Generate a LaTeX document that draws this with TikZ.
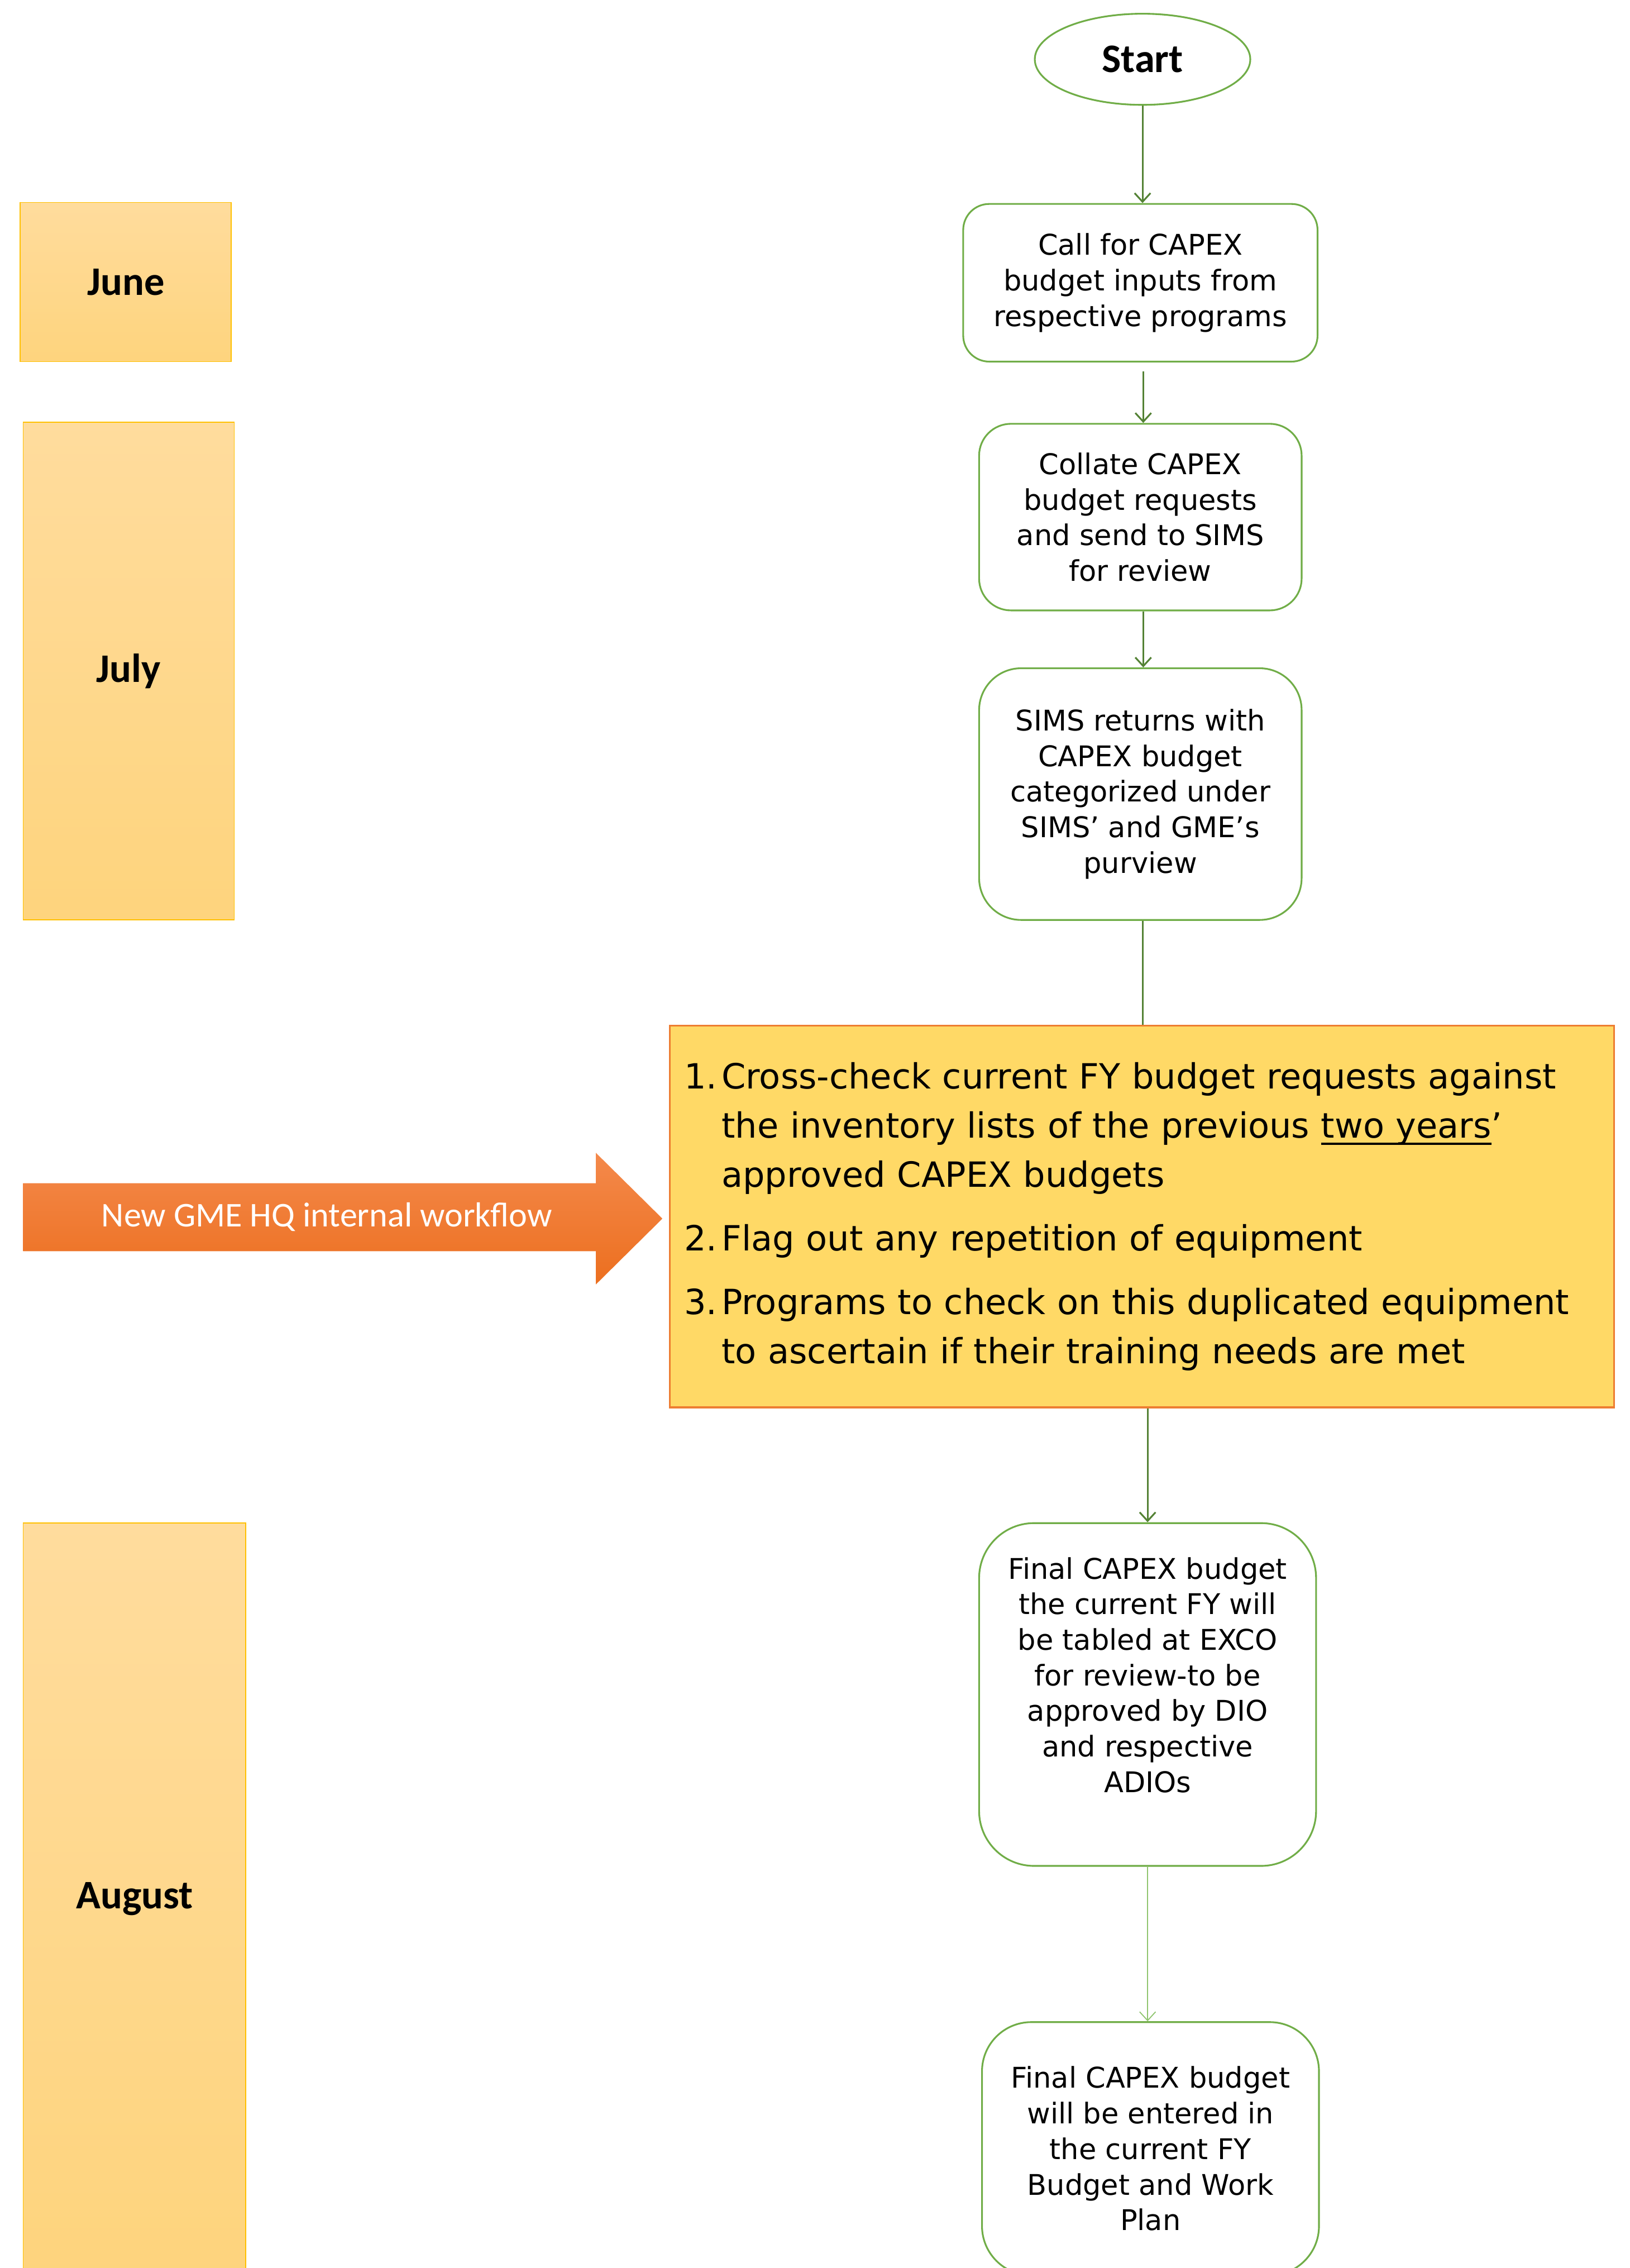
\documentclass[tikz,border=0pt]{standalone}
\usepackage{fontspec}
\setmainfont{DejaVu Sans}
\newfontfamily\calibri{Carlito}
\usetikzlibrary{arrows.meta,shapes.geometric}
\definecolor{boxgreen}{HTML}{70AD47}
\definecolor{arrowgreen}{HTML}{548235}
\definecolor{lightgreen}{HTML}{8FC46E}
\definecolor{chkfill}{HTML}{FFD966}
\definecolor{chkdraw}{HTML}{ED7D31}
\definecolor{monthtop}{HTML}{FFDC9D}
\definecolor{monthbot}{HTML}{FED47D}
\definecolor{monthdraw}{HTML}{FFC000}
\definecolor{arrtop}{HTML}{F4894B}
\definecolor{arrbot}{HTML}{EC6F1F}
\newcommand\myul[1]{\setbox0\hbox{#1}\rlap{\raisebox{-4.6pt}{\rule{\wd0}{1.6pt}}}\box0}
\begin{document}
\begin{tikzpicture}[x=1pt,y=1pt,
  procbox/.style={draw=boxgreen, line width=1.2pt, fill=white, rectangle,
    align=center, font=\fontsize{19.7}{24.6}\selectfont, inner sep=0pt},
  boxtext/.style={align=center, font=\fontsize{19.7}{24.6}\selectfont, inner sep=0pt},
  monthbox/.style={draw=monthdraw, line width=0.7pt, top color=monthtop,
    bottom color=monthbot, rectangle, inner sep=0pt,
    font=\calibri\bfseries\fontsize{28}{32}\selectfont},
  checkbox/.style={draw=chkdraw, line width=1.2pt, fill=chkfill, rectangle,
    inner xsep=10pt, inner ysep=0pt, text width=633pt, align=left,
    minimum height=264pt, font=\fontsize{24}{34}\selectfont},
  flow/.style={draw=arrowgreen, line width=1.2pt,
    -{Straight Barb[length=6pt,width=11pt,line width=1.2pt]}},
  plainline/.style={draw=arrowgreen, line width=1.2pt},
  thinflow/.style={draw=lightgreen, line width=0.7pt,
    -{Straight Barb[length=6pt,width=11pt,line width=0.7pt]}}
]
\useasboundingbox (0,0) rectangle (1127,-1568);
\clip (0,0) rectangle (1127,-1568);

% month boxes
\node[monthbox, minimum width=146pt, minimum height=110pt] (june) at (87,-195) {June};
\node[monthbox, minimum width=146pt, minimum height=344pt] (july) at (89,-464) {July};
\node[monthbox, minimum width=154pt, minimum height=520pt] (august) at (93,-1313) {August};

% start
\node[draw=boxgreen, line width=1.2pt, ellipse, minimum width=149pt,
  minimum height=63pt, inner sep=0pt,
  font=\calibri\bfseries\fontsize{28}{32}\selectfont] (start) at (790,-41) {Start};

% process boxes
\node[procbox, minimum width=245pt, minimum height=109pt, rounded corners=18pt]
  (b1) at (788.5,-195.5) {Call for CAPEX\\budget inputs from\\respective programs};
\node[procbox, minimum width=223pt, minimum height=129pt, rounded corners=22pt]
  (b2) at (788.5,-357.5) {Collate CAPEX\\budget requests\\and send to SIMS\\for review};
\node[procbox, minimum width=223pt, minimum height=174pt, rounded corners=29pt]
  (b3) at (788.5,-549) {SIMS returns with\\CAPEX budget\\categorized under\\SIMS’ and GME’s\\purview};

% check box
\node[checkbox] (check) at (789.5,-841) {%
\begin{tabular}{@{}l@{}l@{}}
\makebox[26pt][l]{1.} & Cross-check current FY budget requests against\\
 & the inventory lists of the previous \myul{two years}’\\
 & approved CAPEX budgets\\[10pt]
2. & Flag out any repetition of equipment\\[10pt]
3. & Programs to check on this duplicated equipment\\
 & to ascertain if their training needs are met
\end{tabular}};

\node[procbox, minimum width=233pt, minimum height=237pt, rounded corners=38pt]
  (b4) at (793.5,-1171.5) {};
\node[boxtext] (b4t) at (793.5,-1158) {Final CAPEX budget\\the current FY will\\be tabled at EXCO\\for review-to be\\approved by DIO\\and respective\\ADIOs};
\node[procbox, minimum width=233pt, minimum height=175pt, rounded corners=34pt]
  (b5) at (795.5,-1485.5) {Final CAPEX budget\\will be entered in\\the current FY\\Budget and Work\\Plan};

% orange arrow
\shade[top color=arrtop, bottom color=arrbot]
  (16,-818) -- (412,-818) -- (412,-797) -- (458,-842.5) -- (412,-888)
  -- (412,-865) -- (16,-865) -- cycle;
\node[font=\calibri\fontsize{24}{28}\selectfont, text=white, inner sep=0pt]
  (wf) at (226,-841.5) {New GME HQ internal workflow};

% connectors
\draw[flow] (start.south) -- (start.south |- b1.north);
\draw[flow, shorten <=6pt] ([xshift=2pt]b1.south) -- ([xshift=2pt]b1.south |- b2.north);
\draw[flow] ([xshift=2pt]b2.south) -- ([xshift=2pt]b2.south |- b3.north);
\draw[plainline] ([xshift=1.5pt]b3.south) -- ([xshift=1.5pt]b3.south |- check.north);
\draw[flow] (b4.north |- check.south) -- (b4.north);
\draw[thinflow] (b4.south) -- (b4.south |- b5.north);
\end{tikzpicture}
\end{document}
